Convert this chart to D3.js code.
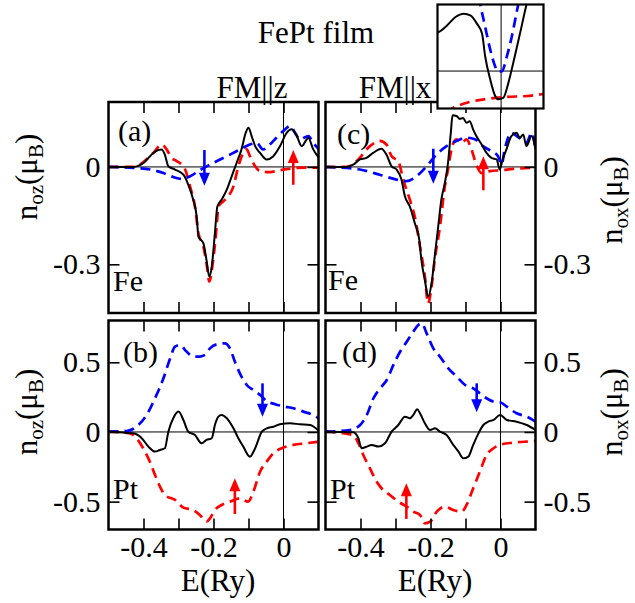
<!DOCTYPE html>
<html><head><meta charset="utf-8">
<script src="https://cdn.jsdelivr.net/npm/d3@7"></script>
<style>body{margin:0;background:#fff}svg{display:block}svg text{font-family:"Liberation Serif","Times New Roman",Times,"DejaVu Serif",serif !important}</style>
</head><body><svg id="c" width="635" height="603"></svg>
<script>
// ---------------- data (E in Ry, n in muB) ----------------
const energyDomain = [-0.5, 0.1];
const energyTicks = [-0.4, -0.3, -0.2, -0.1, 0];
const energyTickLabels = ["-0.4", "-0.2", "0"];
const feDomain = [-0.45, 0.2];
const feTicks = [0, -0.3];
const ptDomain = [-0.7, 0.8];
const ptTicks = [0.5, 0, -0.5];

// Fe, FM || z
const feZTotal = [[-0.5,0],[-0.429,0],[-0.4,0.012],[-0.372,0.043],[-0.358,0.052],[-0.348,0.054],[-0.339,0.038],[-0.329,0.002],[-0.31,-0.008],[-0.286,-0.024],[-0.272,-0.055],[-0.258,-0.101],[-0.248,-0.153],[-0.243,-0.215],[-0.229,-0.235],[-0.22,-0.287],[-0.212,-0.338],[-0.205,-0.307],[-0.196,-0.204],[-0.189,-0.122],[-0.177,-0.101],[-0.162,-0.07],[-0.148,-0.029],[-0.134,0.012],[-0.12,0.054],[-0.108,0.105],[-0.1,0.121],[-0.091,0.095],[-0.081,0.064],[-0.067,0.043],[-0.048,0.023],[-0.029,0.033],[-0.01,0.064],[0.009,0.105],[0.023,0.116],[0.038,0.095],[0.052,0.064],[0.071,0.089],[0.085,0.054],[0.101,0.028]];
const feZUp = [[-0.5,0],[-0.429,0],[-0.372,0.043],[-0.348,0.069],[-0.334,0.054],[-0.32,0.028],[-0.305,0.018],[-0.291,0.007],[-0.281,-0.008],[-0.267,-0.06],[-0.253,-0.122],[-0.243,-0.204],[-0.229,-0.245],[-0.22,-0.297],[-0.212,-0.353],[-0.201,-0.287],[-0.191,-0.184],[-0.186,-0.122],[-0.172,-0.106],[-0.158,-0.091],[-0.143,-0.06],[-0.129,0.002],[-0.115,0.043],[-0.105,0.054],[-0.096,0.033],[-0.081,0.002],[-0.067,-0.013],[-0.039,-0.016],[-0.01,-0.01],[0.028,-0.004],[0.066,-0.002],[0.101,-0.002]];
const feZDown = [[-0.5,0],[-0.429,-0.003],[-0.381,-0.008],[-0.343,-0.019],[-0.315,-0.031],[-0.291,-0.037],[-0.267,-0.029],[-0.239,-0.01],[-0.21,0.007],[-0.181,0.023],[-0.153,0.038],[-0.124,0.054],[-0.096,0.069],[-0.077,0.074],[-0.058,0.054],[-0.039,0.069],[-0.02,0.09],[0.004,0.115],[0.019,0.126],[0.033,0.105],[0.047,0.085],[0.071,0.095],[0.085,0.074],[0.101,0.054]];
// Fe, FM || x
const feXTotal = [[-0.5,0],[-0.44,0],[-0.421,0.007],[-0.402,0.023],[-0.383,0.028],[-0.364,0.043],[-0.34,0.056],[-0.326,0.038],[-0.311,0.002],[-0.297,-0.008],[-0.283,-0.039],[-0.273,-0.091],[-0.259,-0.122],[-0.245,-0.173],[-0.232,-0.225],[-0.226,-0.287],[-0.216,-0.349],[-0.207,-0.4],[-0.197,-0.359],[-0.188,-0.276],[-0.178,-0.184],[-0.169,-0.101],[-0.159,-0.049],[-0.15,0.012],[-0.142,0.105],[-0.137,0.159],[-0.126,0.157],[-0.116,0.148],[-0.107,0.151],[-0.097,0.136],[-0.088,0.141],[-0.078,0.115],[-0.069,0.095],[-0.054,0.069],[-0.04,0.043],[-0.026,0.028],[-0.011,0.023],[-0.002,-0.008],[0.006,0.023],[0.017,0.054],[0.031,0.095],[0.046,0.105],[0.055,0.09],[0.065,0.1],[0.074,0.064],[0.089,0.095],[0.1,0.054]];
const feXUp = [[-0.5,0],[-0.44,0],[-0.411,0.018],[-0.373,0.064],[-0.345,0.08],[-0.326,0.069],[-0.311,0.033],[-0.292,0.018],[-0.278,-0.039],[-0.259,-0.101],[-0.245,-0.153],[-0.23,-0.245],[-0.216,-0.338],[-0.207,-0.421],[-0.197,-0.369],[-0.188,-0.287],[-0.173,-0.184],[-0.159,-0.06],[-0.15,-0.008],[-0.14,0.054],[-0.126,0.085],[-0.111,0.074],[-0.097,0.085],[-0.083,0.054],[-0.069,0.007],[-0.054,-0.019],[-0.03,-0.013],[0.003,-0.01],[0.036,-0.006],[0.1,-0.002]];
const feXDown = [[-0.5,0],[-0.402,-0.008],[-0.345,-0.024],[-0.297,-0.039],[-0.269,-0.044],[-0.24,-0.029],[-0.211,0.002],[-0.183,0.038],[-0.154,0.064],[-0.126,0.08],[-0.097,0.09],[-0.073,0.085],[-0.05,0.064],[-0.026,0.048],[-0.007,0.033],[0.003,0.007],[0.012,0.054],[0.031,0.105],[0.046,0.095],[0.06,0.085],[0.074,0.074],[0.089,0.105],[0.1,0.054]];
// Pt, FM || z
const ptZTotal = [[-0.5,0.002],[-0.429,-0.01],[-0.405,-0.045],[-0.386,-0.105],[-0.367,-0.141],[-0.353,-0.129],[-0.339,-0.117],[-0.329,0.002],[-0.315,0.098],[-0.3,0.146],[-0.286,0.086],[-0.272,0.002],[-0.253,-0.022],[-0.234,-0.081],[-0.22,-0.057],[-0.205,-0.045],[-0.196,0.05],[-0.186,0.11],[-0.177,0.122],[-0.162,0.098],[-0.143,0.026],[-0.129,-0.045],[-0.115,-0.105],[-0.096,-0.177],[-0.081,-0.117],[-0.062,0.002],[-0.048,0.026],[-0.029,0.038],[-0.01,0.055],[0.019,0.062],[0.047,0.055],[0.076,0.05],[0.101,0.007]];
const ptZUp = [[-0.5,0.002],[-0.439,-0.01],[-0.42,-0.045],[-0.401,-0.117],[-0.382,-0.213],[-0.367,-0.309],[-0.353,-0.392],[-0.339,-0.452],[-0.31,-0.488],[-0.286,-0.543],[-0.258,-0.56],[-0.239,-0.596],[-0.22,-0.644],[-0.21,-0.62],[-0.196,-0.56],[-0.177,-0.524],[-0.153,-0.5],[-0.124,-0.476],[-0.101,-0.5],[-0.086,-0.428],[-0.067,-0.285],[-0.048,-0.213],[-0.029,-0.153],[-0.005,-0.117],[0.028,-0.093],[0.066,-0.081],[0.101,-0.069]];
const ptZDown = [[-0.5,0.002],[-0.448,0.007],[-0.42,0.038],[-0.391,0.122],[-0.367,0.242],[-0.343,0.385],[-0.324,0.528],[-0.31,0.612],[-0.296,0.624],[-0.277,0.577],[-0.258,0.541],[-0.239,0.541],[-0.224,0.553],[-0.21,0.6],[-0.191,0.629],[-0.167,0.636],[-0.153,0.6],[-0.139,0.505],[-0.12,0.397],[-0.105,0.337],[-0.086,0.301],[-0.067,0.266],[-0.048,0.222],[-0.024,0.199],[0.004,0.182],[0.028,0.17],[0.057,0.146],[0.085,0.122],[0.101,0.098]];
// Pt, FM || x
const ptXTotal = [[-0.5,0.002],[-0.421,-0.002],[-0.406,-0.045],[-0.397,-0.117],[-0.382,-0.105],[-0.368,-0.093],[-0.349,-0.105],[-0.33,-0.081],[-0.311,0.002],[-0.292,0.05],[-0.273,0.11],[-0.259,0.098],[-0.249,0.122],[-0.238,0.163],[-0.23,0.134],[-0.216,0.062],[-0.201,0.014],[-0.187,0.026],[-0.173,0.002],[-0.154,-0.022],[-0.135,-0.093],[-0.12,-0.141],[-0.106,-0.189],[-0.092,-0.177],[-0.078,-0.093],[-0.063,-0.01],[-0.049,0.05],[-0.035,0.074],[-0.02,0.086],[-0.001,0.122],[0.018,0.086],[0.046,0.074],[0.075,0.05],[0.1,0.014]];
const ptXUp = [[-0.5,0.002],[-0.421,-0.022],[-0.406,-0.081],[-0.392,-0.165],[-0.373,-0.261],[-0.354,-0.356],[-0.34,-0.404],[-0.316,-0.452],[-0.292,-0.5],[-0.268,-0.536],[-0.249,-0.572],[-0.23,-0.596],[-0.216,-0.656],[-0.201,-0.644],[-0.182,-0.572],[-0.158,-0.536],[-0.135,-0.56],[-0.111,-0.572],[-0.097,-0.524],[-0.078,-0.404],[-0.059,-0.285],[-0.04,-0.165],[-0.02,-0.117],[0.003,-0.089],[0.036,-0.077],[0.075,-0.069],[0.1,-0.065]];
const ptXDown = [[-0.5,0.002],[-0.43,0.014],[-0.401,0.05],[-0.382,0.122],[-0.363,0.242],[-0.344,0.313],[-0.325,0.373],[-0.306,0.481],[-0.287,0.576],[-0.268,0.648],[-0.249,0.72],[-0.235,0.768],[-0.225,0.78],[-0.211,0.708],[-0.192,0.6],[-0.173,0.541],[-0.149,0.457],[-0.125,0.397],[-0.101,0.337],[-0.078,0.313],[-0.059,0.278],[-0.04,0.242],[-0.02,0.218],[-0.001,0.213],[0.018,0.182],[0.046,0.134],[0.075,0.11],[0.1,0.074]];
// spin arrows: [E, n_start, n_tip]
const feZArrowDown = [-0.226, 0.052, -0.058], feZArrowUp = [0.028, -0.055, 0.052];
const feXArrowDown = [-0.192, 0.056, -0.052], feXArrowUp = [-0.049, -0.072, 0.033];
const ptZArrowDown = [-0.060, 0.349, 0.110], ptZArrowUp = [-0.139, -0.589, -0.333];
const ptXArrowDown = [-0.068, 0.349, 0.141], ptXArrowUp = [-0.269, -0.624, -0.368];
// inset (zoom near E_F, arbitrary units)
const insetXDomain = [-3, 2], insetYDomain = [-0.9, 1.6];
const insetTotal = [[-3,0.92],[-2.93,0.94],[-2.54,1.1],[-2.15,1.3],[-1.76,1.38],[-1.45,1.34],[-1.14,1.14],[-0.9,0.9],[-0.75,0.35],[-0.51,-0.21],[-0.28,-0.6],[-0.13,-0.68],[0.11,-0.64],[0.34,-0.29],[0.57,0.19],[0.89,0.9],[1.2,1.6],[1.3,1.8]];
const insetDown = [[-1.05,1.8],[-0.98,1.6],[-0.75,1.06],[-0.51,0.51],[-0.28,0.11],[-0.17,-0.01],[0.03,-0.01],[0.27,0.35],[0.5,0.82],[0.81,1.6],[0.9,1.8]];
const insetUp = [[-2.6,-1.0],[-2.3,-0.9],[-1.6,-0.76],[-0.67,-0.67],[0.27,-0.62],[1.2,-0.6],[2,-0.55]];

// ---------------- drawing ----------------
const svg = d3.select("#c");
const SERIF = '"Liberation Serif","Times New Roman",Times,"DejaVu Serif",serif';
const FONT = 30;
const BLUE = "#0000ff", RED = "#ff0000";
const fmt = d => String(d);
const cols = [{x0:108.5, x1:318.5}, {x0:325.5, x1:535.5}];
const rows = [{y0:102, y1:313, dom:feDomain, ticks:feTicks},
              {y0:320.5, y1:529.5, dom:ptDomain, ticks:ptTicks}];
const panels = [
  {c:0,r:0,tag:"(a)",el:"Fe",tot:feZTotal,up:feZUp,dn:feZDown,aU:feZArrowUp,aD:feZArrowDown,tagPos:[118,141],elPos:[113,291]},
  {c:0,r:1,tag:"(b)",el:"Pt",tot:ptZTotal,up:ptZUp,dn:ptZDown,aU:ptZArrowUp,aD:ptZArrowDown,tagPos:[123,362],elPos:[113,499]},
  {c:1,r:0,tag:"(c)",el:"Fe",tot:feXTotal,up:feXUp,dn:feXDown,aU:feXArrowUp,aD:feXArrowDown,tagPos:[337,144],elPos:[328,290]},
  {c:1,r:1,tag:"(d)",el:"Pt",tot:ptXTotal,up:ptXUp,dn:ptXDown,aU:ptXArrowUp,aD:ptXArrowDown,tagPos:[342,362],elPos:[330,499]}
];

function arrow(g, x, y, a, color) {
  const px = x(a[0]), p0 = y(a[1]), p1 = y(a[2]);
  const dir = Math.sign(p1 - p0), hl = 13, hw = 5.5;
  g.append("line").attr("x1", px).attr("x2", px).attr("y1", p0).attr("y2", p1 - dir*hl*0.8)
    .attr("stroke", color).attr("stroke-width", 2.6);
  g.append("path").attr("d", `M${px},${p1} L${px-hw},${p1-dir*hl} L${px+hw},${p1-dir*hl} Z`).attr("fill", color);
}

panels.forEach((p, i) => {
  const C = cols[p.c], R = rows[p.r];
  const x = d3.scaleLinear().domain(energyDomain).range([C.x0, C.x1]);
  const y = d3.scaleLinear().domain(R.dom).range([R.y1, R.y0]);
  const g = svg.append("g");
  const cid = "clip" + i;
  svg.append("clipPath").attr("id", cid).append("rect")
    .attr("x", C.x0).attr("y", R.y0).attr("width", C.x1 - C.x0).attr("height", R.y1 - R.y0);
  const plot = g.append("g").attr("clip-path", `url(#${cid})`);
  plot.append("line").attr("x1", C.x0).attr("x2", C.x1).attr("y1", y(0)).attr("y2", y(0)).attr("stroke", "#000").attr("stroke-width", 1);
  plot.append("line").attr("x1", x(0)).attr("x2", x(0)).attr("y1", R.y0).attr("y2", R.y1).attr("stroke", "#000").attr("stroke-width", 1);
  const line = d3.line().x(d => x(d[0])).y(d => y(d[1])).curve(d3.curveMonotoneX);
  plot.append("path").attr("d", line(p.up)).attr("fill", "none").attr("stroke", RED).attr("stroke-width", 2.7).attr("stroke-dasharray", "10,6");
  plot.append("path").attr("d", line(p.dn)).attr("fill", "none").attr("stroke", BLUE).attr("stroke-width", 2.7).attr("stroke-dasharray", "10,6");
  plot.append("path").attr("d", line(p.tot)).attr("fill", "none").attr("stroke", "#000").attr("stroke-width", 2);
  arrow(g, x, y, p.aD, BLUE);
  arrow(g, x, y, p.aU, RED);

  const styleAx = sel => { sel.select(".domain").remove(); sel.selectAll("line").attr("stroke-width", 1.6);
    sel.attr("font-family", SERIF).attr("font-size", FONT);
    sel.selectAll("text").attr("font-size", FONT).attr("font-family", SERIF).attr("fill", "#000"); };
  const bottomFmt = d => (p.r === 1 && energyTickLabels.includes(fmt(d))) ? fmt(d) : "";
  g.append("g").attr("transform", `translate(0,${R.y1})`).call(d3.axisBottom(x).tickValues(energyTicks).tickSize(-11).tickPadding(6).tickFormat(bottomFmt)).call(styleAx);
  g.append("g").attr("transform", `translate(0,${R.y0})`).call(d3.axisTop(x).tickValues(energyTicks).tickSize(-11).tickFormat("")).call(styleAx);
  g.append("g").attr("transform", `translate(${C.x0},0)`).call(d3.axisLeft(y).tickValues(R.ticks).tickSize(-11).tickPadding(8).tickFormat(p.c===0?fmt:"")).call(styleAx);
  g.append("g").attr("transform", `translate(${C.x1},0)`).call(d3.axisRight(y).tickValues(R.ticks).tickSize(-11).tickPadding(8).tickFormat(p.c===1?fmt:"")).call(styleAx);

  g.append("rect").attr("x", C.x0).attr("y", R.y0).attr("width", C.x1 - C.x0).attr("height", R.y1 - R.y0)
    .attr("fill", "none").attr("stroke", "#000").attr("stroke-width", 2.5);
  g.append("text").attr("x", p.tagPos[0]).attr("y", p.tagPos[1]).attr("font-family", SERIF).attr("font-size", FONT).text(p.tag);
  g.append("text").attr("x", p.elPos[0]).attr("y", p.elPos[1]).attr("font-family", SERIF).attr("font-size", FONT).text(p.el);
});

// titles
svg.append("text").attr("x", 316).attr("y", 43).attr("text-anchor", "middle").attr("font-family", SERIF).attr("font-size", 31).text("FePt film");
svg.append("text").attr("x", 252).attr("y", 98).attr("text-anchor", "middle").attr("font-family", SERIF).attr("font-size", 31).text("FM||z");
svg.append("text").attr("x", 395).attr("y", 98).attr("text-anchor", "middle").attr("font-family", SERIF).attr("font-size", 31).text("FM||x");
// x-axis titles
[218, 435].forEach(cx => svg.append("text").attr("x", cx).attr("y", 591).attr("text-anchor", "middle").attr("font-family", SERIF).attr("font-size", 31).text("E(Ry)"));
// y-axis titles
function yTitle(xb, cy, sub) {
  const t = svg.append("text").attr("transform", `translate(${xb},${cy}) rotate(-90)`).attr("text-anchor", "middle").attr("font-family", SERIF).attr("font-size", 31);
  t.append("tspan").text("n");
  t.append("tspan").attr("font-size", 21).attr("dy", 6).text(sub);
  t.append("tspan").attr("dy", -6).text("(μ");
  t.append("tspan").attr("font-size", 21).attr("dy", 6).text("B");
  t.append("tspan").attr("dy", -6).text(")");
}
yTitle(37, 177, "oz"); yTitle(37, 412, "oz");
yTitle(622, 200, "ox"); yTitle(622, 412, "ox");

// inset
const ix = d3.scaleLinear().domain(insetXDomain).range([437.5, 543.5]);
const iy = d3.scaleLinear().domain(insetYDomain).range([108.5, 4.5]);
const ig = svg.append("g");
ig.append("rect").attr("x", 437.5).attr("y", 4.5).attr("width", 106).attr("height", 104).attr("fill", "#fff");
svg.append("clipPath").attr("id", "iclip").append("rect").attr("x", 437.5).attr("y", 4.5).attr("width", 106).attr("height", 104);
const ip = ig.append("g").attr("clip-path", "url(#iclip)");
ip.append("line").attr("x1", ix(0)).attr("x2", ix(0)).attr("y1", 4.5).attr("y2", 108.5).attr("stroke", "#000").attr("stroke-width", 1);
ip.append("line").attr("x1", 437.5).attr("x2", 543.5).attr("y1", iy(0)).attr("y2", iy(0)).attr("stroke", "#000").attr("stroke-width", 1);
const il = d3.line().x(d => ix(d[0])).y(d => iy(d[1])).curve(d3.curveMonotoneX);
ip.append("path").attr("d", il(insetUp)).attr("fill", "none").attr("stroke", RED).attr("stroke-width", 2.7).attr("stroke-dasharray", "10,6");
ip.append("path").attr("d", il(insetDown)).attr("fill", "none").attr("stroke", BLUE).attr("stroke-width", 2.7).attr("stroke-dasharray", "10,6");
ip.append("path").attr("d", il(insetTotal)).attr("fill", "none").attr("stroke", "#000").attr("stroke-width", 2);
ig.append("rect").attr("x", 437.5).attr("y", 4.5).attr("width", 106).attr("height", 104).attr("fill", "none").attr("stroke", "#000").attr("stroke-width", 2.2);
</script></body></html>
